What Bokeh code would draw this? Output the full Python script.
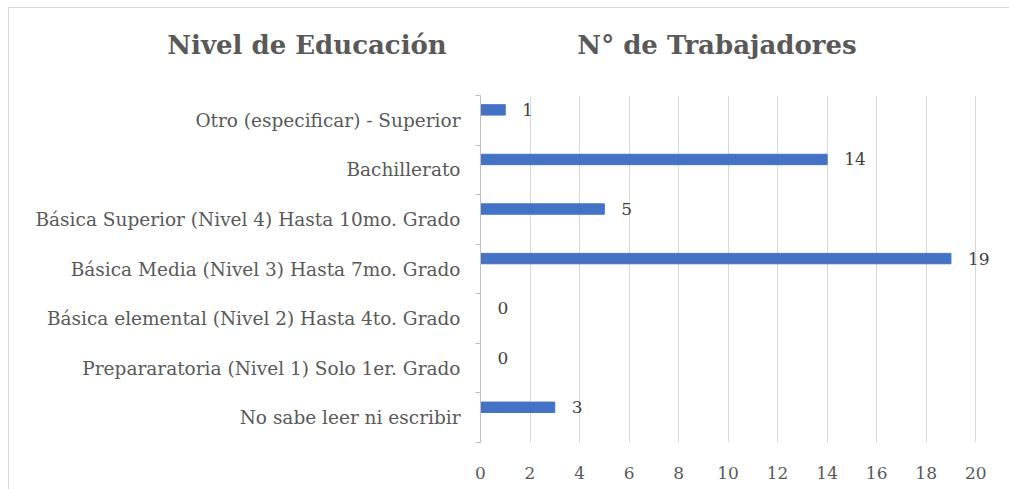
from bokeh.plotting import figure
from bokeh.layouts import column
from bokeh.models import ColumnDataSource, FixedTicker, Range1d, Div
from bokeh.embed import file_html
from bokeh.resources import INLINE
from bokeh.core.properties import value

categories = [
    "No sabe leer ni escribir",
    "Prepararatoria (Nivel 1) Solo 1er. Grado",
    "Básica elemental (Nivel 2) Hasta 4to. Grado",
    "Básica Media (Nivel 3) Hasta 7mo. Grado",
    "Básica Superior (Nivel 4) Hasta 10mo. Grado",
    "Bachillerato",
    "Otro (especificar) - Superior",
]
trabajadores = [3, 0, 0, 19, 5, 14, 1]
x_ticks = [0, 2, 4, 6, 8, 10, 12, 14, 16, 18, 20]
titles = ["Nivel de Educación", "N° de Trabajadores"]

FONT = "DejaVu Serif"
GRAY = "#595959"
W = 1000
HEAD_H = 87
MAIN_H = 394

# ---- header with the two titles ----
span_css = ("position:absolute;top:21px;height:32px;line-height:32px;text-align:center;"
            "white-space:nowrap;")
head_html = (
    f"<div style=\"position:relative;width:{W}px;height:{HEAD_H}px;font-family:'{FONT}';"
    f"font-weight:bold;font-size:26px;color:{GRAY};\">"
    f"<span style=\"{span_css}left:0px;width:596px;\">{titles[0]}</span>"
    f"<span style=\"{span_css}left:416px;width:584px;\">{titles[1]}</span>"
    "</div>"
)
head = Div(text=head_html, width=W, height=HEAD_H, margin=0)

# ---- main chart ----
pos = list(range(len(categories)))
bar_off = 0.21
src = ColumnDataSource(dict(
    y=[p_ + bar_off for p_ in pos],
    v=trabajadores,
    lbl=[str(v) for v in trabajadores],
))

p = figure(width=W, height=MAIN_H, output_backend="svg", toolbar_location=None,
           x_range=Range1d(0, 20.8), y_range=Range1d(-0.5, len(categories) - 0.5),
           min_border_left=471, min_border_top=0, min_border_bottom=47, min_border_right=14,
           outline_line_color=None, background_fill_color="white", border_fill_color="white")

p.hbar(y="y", right="v", left=0, height=0.21, color="#4472C4", source=src)
p.text(x="v", y="y", text="lbl", source=src, x_offset=17, text_baseline="middle",
       text_align="left", text_font=value(FONT), text_font_size="17px", text_color="#404040")

p.xaxis.ticker = FixedTicker(ticks=x_ticks)
p.xaxis.axis_line_color = None
p.xaxis.major_tick_line_color = None
p.xaxis.minor_tick_line_color = None
p.xaxis.major_label_text_font = FONT
p.xaxis.major_label_text_font_size = "17px"
p.xaxis.major_label_text_color = GRAY
p.xaxis.major_label_standoff = 18

p.yaxis.ticker = FixedTicker(ticks=pos, minor_ticks=[i - 0.5 for i in range(len(categories) + 1)])
p.yaxis.major_label_overrides = {i: c for i, c in enumerate(categories)}
p.yaxis.axis_line_color = "#bfbfbf"
p.yaxis.major_tick_line_color = None
p.yaxis.major_tick_out = 0
p.yaxis.minor_tick_line_color = "#bfbfbf"
p.yaxis.minor_tick_out = 5
p.yaxis.minor_tick_in = 0
p.yaxis.major_label_text_font = FONT
p.yaxis.major_label_text_font_size = "18.5px"
p.yaxis.major_label_text_color = GRAY
p.yaxis.major_label_standoff = 15

p.xgrid.ticker = FixedTicker(ticks=x_ticks)
p.xgrid.grid_line_color = "#d9d9d9"
p.ygrid.grid_line_color = None

layout = column(head, p, spacing=0,
                styles={"border-left": "1px solid #d9d9d9", "border-top": "1px solid #d9d9d9",
                        "margin-left": "8px", "margin-top": "7px"})

open("out.html", "w").write(file_html(layout, INLINE))
